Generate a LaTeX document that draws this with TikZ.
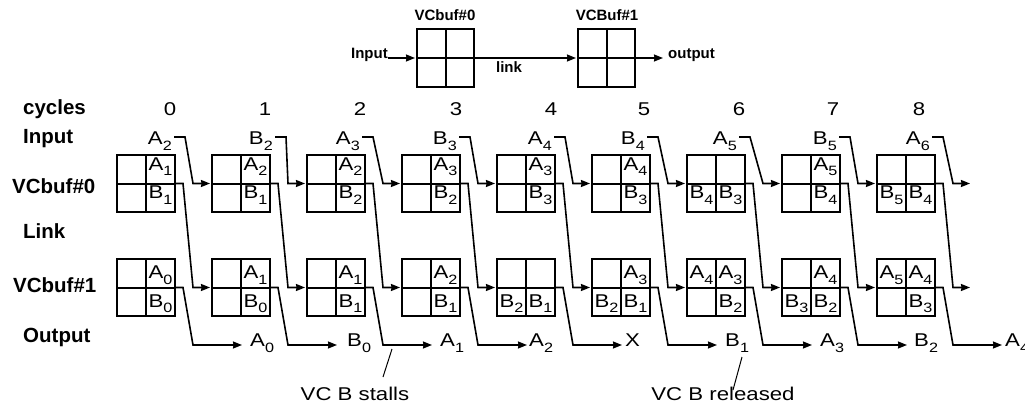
\documentclass[tikz,border=0pt]{standalone}
\usepackage{fontspec}
\setmainfont{Liberation Sans}
\newfontfamily\rf[FakeStretch=1.2]{Liberation Sans}
\usetikzlibrary{arrows.meta,calc}
\newcommand\sbx[1]{\raisebox{-5.5pt}{\fontsize{13.5}{14}\selectfont #1}}
\begin{document}
\begin{tikzpicture}[x=1pt,y=-1pt,
  lab/.style={font=\rf\fontsize{18.5}{20}\selectfont, inner sep=0pt, anchor=base},
  rowlab/.style={font=\bfseries\fontsize{20.5}{22}\selectfont, inner sep=0pt, anchor=base west},
  toplab/.style={font=\bfseries\fontsize{15}{17}\selectfont, inner sep=0pt},
  buf/.style={draw, line width=2pt, minimum width=58pt, minimum height=57pt, inner sep=0pt},
  div/.style={line width=2pt},
  conn/.style={line width=1.6pt, -{Stealth[length=9pt,width=7pt,inset=0.5pt]}},
  note/.style={line width=1pt}]
\useasboundingbox (0,0) rectangle (1025,407);

% ---------- top diagram ----------
\node[buf, minimum width=57pt, minimum height=58pt] (tv0) at (445.5,58) {};
\node[buf, minimum width=57pt, minimum height=58pt] (tv1) at (606.5,58) {};
\foreach \b in {tv0,tv1}{
  \draw[div] (\b.north) -- (\b.south) (\b.west) -- (\b.east);
}
\node[toplab, anchor=base] (tv0l) at (445,20) {VCbuf\#0};
\node[toplab, anchor=base] (tv1l) at (607,20) {VCBuf\#1};
\node[toplab, anchor=base east] (tin) at (388,58) {Input};
\node[toplab, anchor=base] (tlink) at (509,72) {link};
\node[toplab, anchor=base west] (tout) at (668,58.5) {output};
\draw[conn, shorten >=1pt] (tin.base east) -- (tv0.west);
\draw[conn, shorten >=1pt] (tv0.east) -- (tv1.west);
\draw[conn] (tv1.east) -- ($(tout.base west)+(-5,-0.5)$);

% ---------- row labels ----------
\node[rowlab] (rcyc) at (23,114) {cycles};
\node[rowlab] (rin) at (23,143) {Input};
\node[rowlab] (rv0) at (12,193) {VCbuf\#0};
\node[rowlab] (rlink) at (23,238) {Link};
\node[rowlab] (rv1) at (13,292) {VCbuf\#1};
\node[rowlab] (rout) at (23,342) {Output};

% ---------- cycle numbers ----------
\foreach \x/\t in {170/0,265/1,360/2,456/3,551/4,644/5,739/6,833/7,919/8}
  \node[lab] (cy\t) at (\x,115) {\t};

% ---------- buffers ----------
\foreach \k in {0,...,8}{
  \pgfmathsetmacro\xc{146+95*\k}
  \node[buf] (v0-\k) at (\xc,183.5) {};
  \node[buf] (v1-\k) at (\xc,287.5) {};
  \draw[div] (v0-\k.north) -- (v0-\k.south) (v0-\k.west) -- (v0-\k.east);
  \draw[div] (v1-\k.north) -- (v1-\k.south) (v1-\k.west) -- (v1-\k.east);
}

% ---------- cell contents ----------
\foreach \x/\y/\l/\s [count=\i] in {
  160.5/170/A/1, 160.5/198.5/B/1, 160.5/278.5/A/0, 160.5/307/B/0,
  255.5/170/A/2, 255.5/198.5/B/1, 255.5/278.5/A/1, 255.5/307/B/0,
  350.5/170/A/2, 350.5/198.5/B/2, 350.5/278.5/A/1, 350.5/307/B/1,
  445.5/170/A/3, 445.5/198.5/B/2, 445.5/278.5/A/2, 445.5/307/B/1,
  540.5/170/A/3, 540.5/198.5/B/3, 511.5/307/B/2, 540.5/307/B/1,
  635.5/170/A/4, 635.5/198.5/B/3, 635.5/278.5/A/3, 606.5/307/B/2, 635.5/307/B/1,
  701.5/198.5/B/4, 730.5/198.5/B/3, 701.5/278.5/A/4, 730.5/278.5/A/3, 730.5/307/B/2,
  825.5/170/A/5, 825.5/198.5/B/4, 825.5/278.5/A/4, 796.5/307/B/3, 825.5/307/B/2,
  891.5/198.5/B/5, 920.5/198.5/B/4, 891.5/278.5/A/5, 920.5/278.5/A/4, 920.5/307/B/3}
  \node[lab] (c\i) at (\x,\y) {\l\sbx{\s}};

% ---------- input labels ----------
\foreach \k/\x/\l/\s in {0/172/A/2,1/273/B/2,2/360/A/3,3/457/B/3,4/552/A/4,
                         5/645/B/4,6/737/A/5,7/837/B/5,8/930/A/6}
  \node[lab, anchor=base east] (in-\k) at (\x,144.5) {\l\sbx{\s}};

% ---------- connectors ----------
\foreach \k [evaluate=\k as \n using int(\k+1), evaluate=\k as \xb using 193+95*\k] in {0,...,7}{
  \draw[conn, shorten >=1pt] ($(in-\k.base east)+(2,-7.5)$) -- ++(11,0) -- (\xb,183.5) -- (v0-\n.west);
  \draw[conn, shorten >=1pt] (v0-\k.east) -- ++(7,0) -- (\xb,287.5) -- (v1-\n.west);
}
\coordinate (e0) at (970,183.5);
\coordinate (e1) at (970,287.5);
\draw[conn] ($(in-8.base east)+(2,-7.5)$) -- ++(11,0) -- (953,183.5) -- (e0);
\draw[conn] (v0-8.east) -- ++(7,0) -- (953,287.5) -- (e1);

\foreach \k [evaluate=\k as \xb using 193+95*\k, evaluate=\k as \xo using 242+95*\k] in {0,...,8}{
  \coordinate (o-\k) at (\xo,345);
  \draw[conn] (v1-\k.east) -- ++(7,0) -- (\xb,345) -- (o-\k);
}

% ---------- output labels ----------
\foreach \k/\d/\t in {0/8/A\sbx{0},1/10/B\sbx{0},2/8/A\sbx{1},3/2/A\sbx{2},4/3/X,
                      5/8/B\sbx{1},6/8/A\sbx{3},7/7/B\sbx{2},8/3/A\sbx{4}}
  \node[lab, anchor=base west] (out-\k) at ($(o-\k)+(\d,1.5)$) {\t};

% ---------- annotations ----------
\node[lab] (stall) at (355,400) {VC B stalls};
\node[lab] (rel) at (723,400) {VC B released};
\coordinate (s1) at (392,349);
\coordinate (s2) at (383,377);
\coordinate (r1) at (742,357);
\coordinate (r2) at (733,390);
\draw[note] (s1) -- (s2);
\draw[note] (r1) -- (r2);
\end{tikzpicture}
\end{document}
